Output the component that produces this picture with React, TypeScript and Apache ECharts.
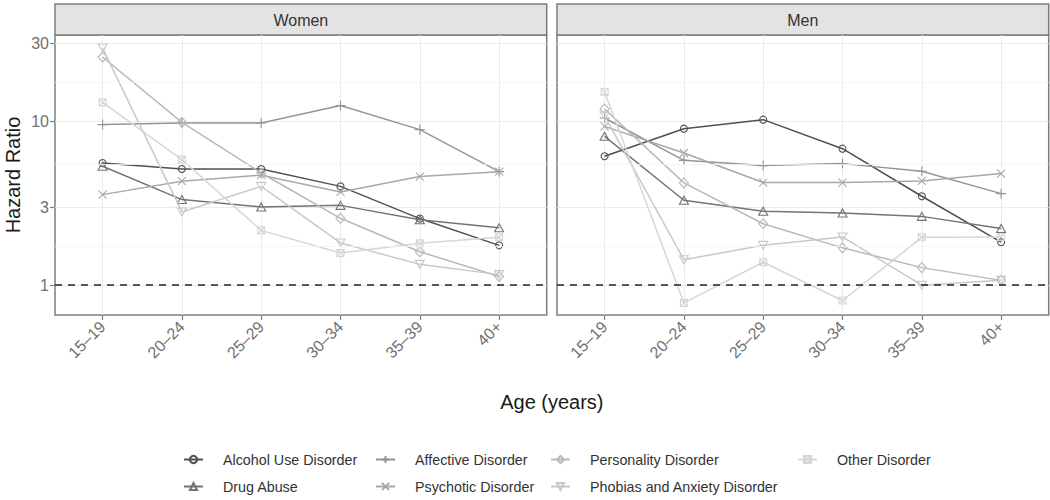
import React, { useEffect, useRef } from 'react';
import * as echarts from 'echarts';

// ---------- data ----------
const ages = ['15–19', '20–24', '25–29', '30–34', '35–39', '40+'];
const disorders = [
  'Alcohol Use Disorder',
  'Drug Abuse',
  'Affective Disorder',
  'Psychotic Disorder',
  'Personality Disorder',
  'Phobias and Anxiety Disorder',
  'Other Disorder',
];
const panels = ['Women', 'Men'];

const womenAlcohol = [5.57, 5.12, 5.12, 4.01, 2.55, 1.75];
const womenDrug = [5.32, 3.33, 3.0, 3.07, 2.51, 2.24];
const womenAffective = [9.55, 9.77, 9.77, 12.5, 8.9, 4.93];
const womenPsychotic = [3.57, 4.31, 4.69, 3.71, 4.6, 4.93];
const womenPersonality = [24.7, 9.86, 4.84, 2.56, 1.6, 1.13];
const womenPhobias = [28.0, 2.8, 4.01, 1.81, 1.34, 1.16];
const womenOther = [13.06, 5.84, 2.16, 1.57, 1.8, 1.96];

const menAlcohol = [6.12, 9.02, 10.24, 6.81, 3.49, 1.83];
const menDrug = [8.1, 3.3, 2.83, 2.76, 2.63, 2.22];
const menAffective = [10.48, 5.78, 5.37, 5.52, 4.96, 3.62];
const menPsychotic = [9.32, 6.41, 4.23, 4.23, 4.33, 4.8];
const menPersonality = [11.9, 4.21, 2.37, 1.69, 1.28, 1.07];
const menPhobias = [10.8, 1.43, 1.75, 1.97, 1.0, 1.07];
const menOther = [15.1, 0.78, 1.38, 0.806, 1.96, 1.97];

const yTicks = [1, 3, 10, 30];
const yMinorTicks = [Math.sqrt(3), Math.sqrt(30), Math.sqrt(300)];
const referenceLine = 1;

const panelData = [
  [womenAlcohol, womenDrug, womenAffective, womenPsychotic, womenPersonality, womenPhobias, womenOther],
  [menAlcohol, menDrug, menAffective, menPsychotic, menPersonality, menPhobias, menOther],
];

// ---------- styles ----------
const FONT = 'Liberation Sans, Arial, Helvetica, sans-serif';
const colors = ['#505050', '#747474', '#959595', '#a8a8a8', '#b8b8b8', '#c8c8c8', '#d6d6d6'];
const symbols: { symbol: string; size: any }[] = [
  { symbol: 'circle', size: 7 },
  { symbol: 'triangle', size: [9, 8] },
  { symbol: 'path://M5,0L5,10M0,5L10,5', size: 10 },
  { symbol: 'path://M0,0L10,10M10,0L0,10', size: 8 },
  { symbol: 'diamond', size: [9, 10] },
  { symbol: 'path://M0,0L10,0L5,8.66Z', size: [9, 8] },
  { symbol: 'path://M0,0L10,0L10,10L0,10ZM0,0L10,10M10,0L0,10', size: 7 },
];

const log10 = (v: number) => Math.log10(v);
const Y_MIN = -0.182;
const Y_MAX = 1.527;
const GRID_TOP = 35;
const GRID_H = 280;
const GRID_W = 491.7;
const gridLefts = [55, 557];
const STRIP_TOP = 4;

function buildOption() {
  const grid = gridLefts.map((left) => ({
    left,
    top: GRID_TOP,
    width: GRID_W,
    height: GRID_H,
    show: true,
    borderColor: '#7d7d7d',
    borderWidth: 1.5,
    backgroundColor: '#ffffff',
    z: 0,
  }));

  const xAxis = gridLefts.map((_, g) => ({
    type: 'value',
    gridIndex: g,
    position: 'bottom',
    min: -0.6,
    max: 5.6,
    axisLine: { show: false, onZero: false },
    axisTick: {
      show: true,
      length: 5,
      lineStyle: { color: '#7d7d7d', width: 1.2 },
      customValues: ages.map((_, i) => i),
    },
    axisLabel: {
      customValues: ages.map((_, i) => i),
      formatter: (v: number) => ages[Math.round(v)] ?? '',
      rotate: 45,
      margin: 9,
      fontSize: 16,
      color: '#707070',
      fontFamily: FONT,
    },
    splitLine: { show: true, lineStyle: { color: '#ebebeb', width: 1 } },
  }));

  const yAxis = gridLefts.map((_, g) => ({
    type: 'value',
    gridIndex: g,
    position: 'left',
    min: Y_MIN,
    max: Y_MAX,
    axisLine: { show: false, onZero: false },
    axisTick: {
      show: true,
      length: 5,
      lineStyle: { color: g === 0 ? '#7d7d7d' : 'rgba(0,0,0,0)', width: 1.2 },
      customValues: yTicks.map(log10),
    },
    axisLabel: {
      show: g === 0,
      customValues: yTicks.map(log10),
      formatter: (v: number) => String(Math.round(Math.pow(10, v))),
      margin: 6,
      fontSize: 16,
      color: '#707070',
      fontFamily: FONT,
    },
    splitLine: { show: true, lineStyle: { color: '#ebebeb', width: 1 } },
  }));

  const series: any[] = [];
  gridLefts.forEach((_, g) => {
    series.push({
      type: 'line',
      name: '__minor' + g,
      xAxisIndex: g,
      yAxisIndex: g,
      data: [],
      silent: true,
      z: 1,
      markLine: {
        silent: true,
        symbol: ['none', 'none'],
        label: { show: false },
        lineStyle: { color: '#f2f2f2', width: 0.8, type: 'solid' },
        emphasis: { disabled: true },
        data: yMinorTicks.map((v) => ({ yAxis: log10(v) })),
      },
    });
    series.push({
      type: 'line',
      name: '__ref' + g,
      xAxisIndex: g,
      yAxisIndex: g,
      data: [],
      silent: true,
      z: 1.5,
      markLine: {
        silent: true,
        symbol: ['none', 'none'],
        label: { show: false },
        lineStyle: { color: '#222222', width: 1.6, type: [7, 6] },
        emphasis: { disabled: true },
        data: [{ yAxis: log10(referenceLine) }],
      },
    });
    disorders.forEach((name, k) => {
      series.push({
        type: 'line',
        name,
        xAxisIndex: g,
        yAxisIndex: g,
        data: panelData[g][k].map((v, i) => [i, log10(v)]),
        symbol: symbols[k].symbol,
        symbolSize: symbols[k].size,
        showSymbol: true,
        z: 2 + k * 0.01,
        lineStyle: { color: colors[k], width: 1.5 },
        itemStyle: { color: 'rgba(255,255,255,0)', borderColor: colors[k], borderWidth: 1.1 },
        emphasis: { disabled: true },
      });
    });
  });

  const legendCols = [
    [disorders[0], disorders[1]],
    [disorders[2], disorders[3]],
    [disorders[4], disorders[5]],
    [disorders[6]],
  ];
  const legendLefts = [183, 375, 550, 797];
  const legend = legendCols.map((col, i) => ({
    orient: 'vertical',
    left: legendLefts[i],
    top: 451.5,
    padding: 0,
    itemWidth: 19,
    itemHeight: 9,
    itemGap: 11,
    selectedMode: false,
    data: col,
    textStyle: {
      fontSize: 14.3,
      lineHeight: 16,
      color: '#333333',
      fontFamily: FONT,
      padding: [0, 0, 0, 15],
    },
  }));

  const graphic: any[] = [];
  gridLefts.forEach((left, g) => {
    graphic.push({
      type: 'rect',
      shape: { x: left, y: STRIP_TOP, width: GRID_W, height: GRID_TOP - STRIP_TOP },
      style: { fill: '#e3e3e3', stroke: '#7d7d7d', lineWidth: 1.5 },
      silent: true,
    });
    graphic.push({
      type: 'text',
      x: left + GRID_W / 2,
      y: (STRIP_TOP + GRID_TOP) / 2 + 0.5,
      style: {
        text: panels[g],
        fontSize: 16,
        fontFamily: FONT,
        fill: '#333333',
        textAlign: 'center',
        textVerticalAlign: 'middle',
      },
      silent: true,
    });
  });
  graphic.push({
    type: 'text',
    x: 13,
    y: GRID_TOP + GRID_H / 2,
    rotation: Math.PI / 2,
    style: {
      text: 'Hazard Ratio',
      fontSize: 20,
      fontFamily: FONT,
      fill: '#1a1a1a',
      textAlign: 'center',
      textVerticalAlign: 'middle',
    },
    silent: true,
  });
  graphic.push({
    type: 'text',
    x: (gridLefts[0] + gridLefts[1] + GRID_W) / 2,
    y: 402,
    style: {
      text: 'Age (years)',
      fontSize: 20,
      fontFamily: FONT,
      fill: '#1a1a1a',
      textAlign: 'center',
      textVerticalAlign: 'middle',
    },
    silent: true,
  });

  return {
    animation: false,
    backgroundColor: '#ffffff',
    grid,
    xAxis,
    yAxis,
    legend,
    series,
    graphic,
  };
}

export default function App() {
  const ref = useRef<HTMLDivElement>(null);
  useEffect(() => {
    if (!ref.current) return;
    const chart = echarts.init(ref.current, null, { renderer: 'svg' });
    chart.setOption(buildOption() as any);
    return () => chart.dispose();
  }, []);
  return (
    <div
      ref={ref}
      style={{ position: 'fixed', left: 0, top: 0, width: 1050, height: 500, background: '#fff' }}
    />
  );
}
